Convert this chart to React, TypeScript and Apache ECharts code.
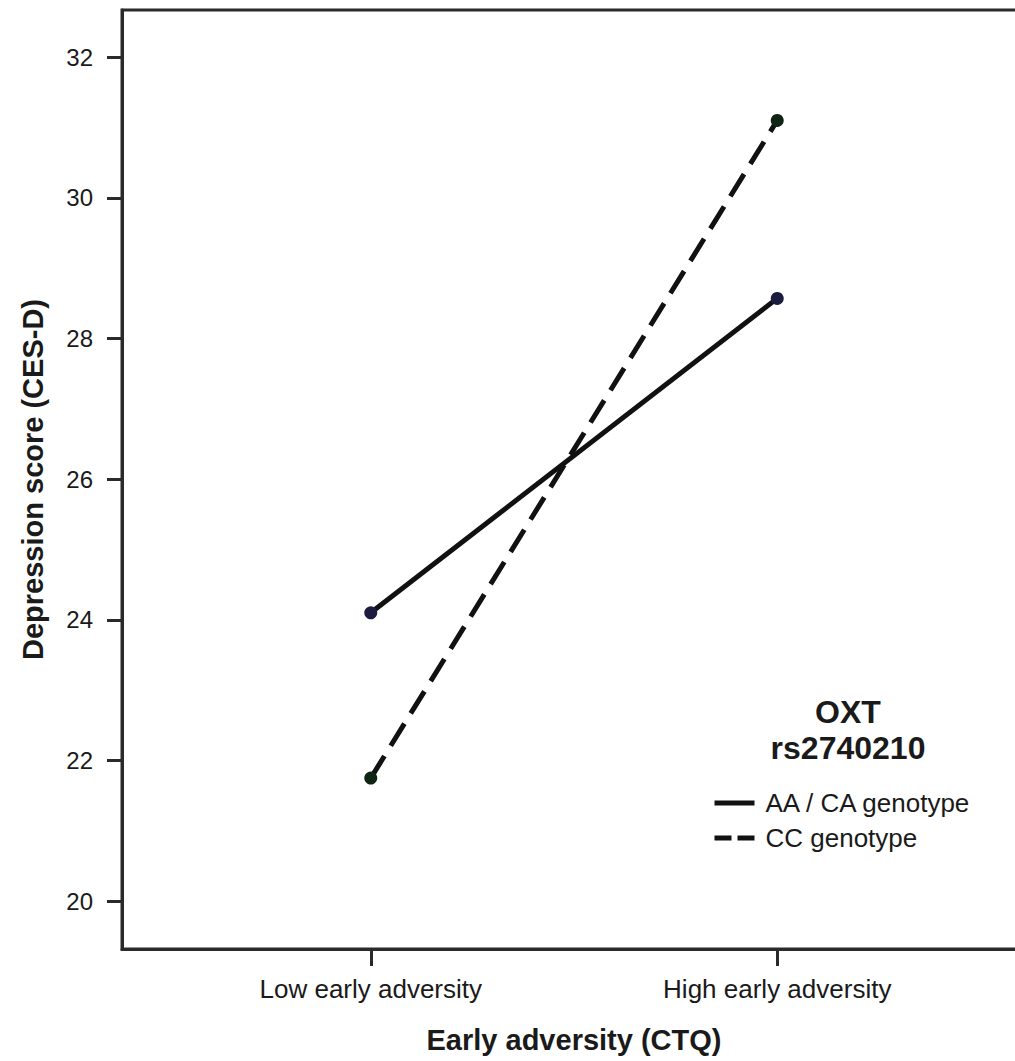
import React, { useEffect, useRef } from "react";
import * as echarts from "echarts";

const categories = ["Low early adversity", "High early adversity"];
const categoryPositions = [0, 1];
const aaCaValues = [24.1, 28.57];
const ccValues = [21.75, 31.1];
const yTicks = [20, 22, 24, 26, 28, 30, 32];
const seriesNames = ["AA / CA genotype", "CC genotype"];
const legendTitle = "OXT\nrs2740210";

const FONT = "'Liberation Sans', Arial, sans-serif";

export default function App() {
  const ref = useRef<HTMLDivElement>(null);
  useEffect(() => {
    document.body.style.margin = "0";
    const chart = echarts.init(ref.current!, null, { renderer: "svg" });
    const toPairs = (vals: number[]) => categoryPositions.map((x, i) => [x, vals[i]]);
    chart.setOption({
      animation: false,
      backgroundColor: "#ffffff",
      textStyle: { fontFamily: FONT },
      grid: {
        left: 122,
        top: 10,
        width: 904,
        bottom: 112,
        show: true,
        borderColor: "#2a2a2a",
        borderWidth: 3,
        backgroundColor: "transparent",
      },
      xAxis: {
        type: "value",
        min: -0.612,
        max: 1.612,
        name: "Early adversity (CTQ)",
        nameLocation: "middle",
        nameGap: 76,
        nameTextStyle: { fontSize: 29, fontWeight: "bold", color: "#1a1a1a", fontFamily: FONT },
        splitLine: { show: false },
        axisLine: { show: true, onZero: false, lineStyle: { color: "#2a2a2a", width: 3 } },
        axisTick: { show: true, length: 17, customValues: categoryPositions, lineStyle: { color: "#2a2a2a", width: 3 } },
        axisLabel: {
          customValues: categoryPositions,
          formatter: (v: number) => categories[Math.round(v)] ?? "",
          fontSize: 26,
          color: "#1a1a1a",
          margin: 27,
          fontFamily: FONT,
        },
      },
      yAxis: {
        type: "value",
        min: 19.32,
        max: 32.67,
        name: "Depression score (CES-D)",
        nameLocation: "middle",
        nameGap: 75,
        nameTextStyle: { fontSize: 29, fontWeight: "bold", color: "#1a1a1a", fontFamily: FONT },
        splitLine: { show: false },
        axisLine: { show: true, onZero: false, lineStyle: { color: "#2a2a2a", width: 3 } },
        axisTick: { show: true, length: 15, customValues: yTicks, lineStyle: { color: "#2a2a2a", width: 3 } },
        axisLabel: {
          customValues: yTicks,
          fontSize: 24,
          color: "#1a1a1a",
          margin: 29,
          fontFamily: FONT,
        },
      },
      legend: {
        left: 712,
        top: 790,
        orient: "vertical",
        itemWidth: 40,
        itemHeight: 14,
        itemGap: 9,
        padding: 0,
        itemStyle: { opacity: 0, color: "transparent", borderWidth: 0 },
        lineStyle: { width: 5, color: "#111" },
        textStyle: { fontSize: 26, color: "#1a1a1a", fontFamily: FONT, padding: [0, 0, 0, 6] },
        data: [
          { name: seriesNames[0], lineStyle: { width: 5, type: "solid", color: "#111" } },
          { name: seriesNames[1], lineStyle: { width: 5, type: [17, 6], color: "#111" } },
        ],
      },
      graphic: [
        {
          type: "text",
          x: 848,
          y: 694,
          style: {
            text: legendTitle,
            align: "center",
            verticalAlign: "top",
            fontSize: 32,
            fontWeight: "bold",
            lineHeight: 36,
            fill: "#1a1a1a",
            fontFamily: FONT,
          },
        },
      ],
      series: [
        {
          name: seriesNames[0],
          type: "line",
          data: toPairs(aaCaValues),
          symbol: "circle",
          symbolSize: 13,
          itemStyle: { color: "#1c1c40" },
          lineStyle: { color: "#111", width: 5, type: "solid" },
          z: 3,
        },
        {
          name: seriesNames[1],
          type: "line",
          data: toPairs(ccValues),
          symbol: "circle",
          symbolSize: 13,
          itemStyle: { color: "#0f2412" },
          lineStyle: { color: "#111", width: 5, type: [26, 12] },
          z: 3,
        },
      ],
    });
    return () => chart.dispose();
  }, []);
  return (
    <div style={{ position: "absolute", left: 0, top: 0, width: 1015, height: 1061, overflow: "hidden" }}>
      <div ref={ref} style={{ width: 1030, height: 1061 }} />
    </div>
  );
}
